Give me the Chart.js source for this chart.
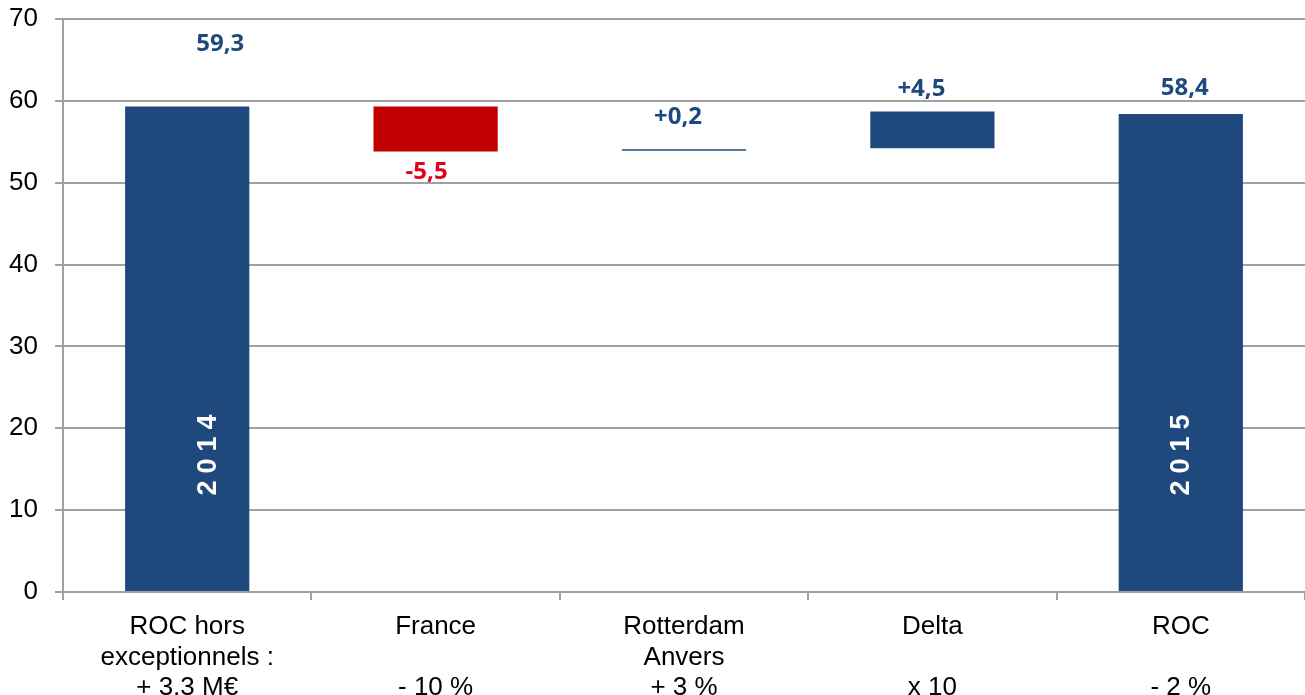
<!DOCTYPE html>
<html lang="fr">
<head>
<meta charset="UTF-8">
<title>ROC 2014 - 2015</title>
<script src="https://cdn.jsdelivr.net/npm/chart.js@4.4.0/dist/chart.umd.min.js"></script>
<style>
  html, body { margin: 0; padding: 0; background: #fff; }
  .chart-box { width: 1305px; height: 695px; position: relative; }
</style>
</head>
<body>
<div class="chart-box"><canvas id="rocChart"></canvas></div>
<script>
// categories (multi-line axis labels)
const categories = [
  ["ROC hors", "exceptionnels :", "+ 3,3 M€"],
  ["France", "", "- 10 %"],
  ["Rotterdam", "Anvers", "+ 3 %"],
  ["Delta", "", "x 10"],
  ["ROC", "", "- 2 %"]
];
// waterfall: each bar floats from start to end (M€)
const barStart = [0, 53.8, 53.9, 54.2, 0];
const barEnd = [59.3, 59.3, 54.1, 58.7, 58.4];
const valueLabels = ["59,3", "-5,5", "+0,2", "+4,5", "58,4"];
const yearLabels = ["2014", "", "", "", "2015"];
const yMin = 0, yMax = 70, yStep = 10;

const blue = '#1F497D';
const red = '#C00000';
const redText = '#E3001B';
const gridColor = '#a0a0a0';
const barColors = [blue, red, blue, blue, blue];
const labelColors = [blue, redText, blue, blue, blue];

const waterfallLabels = {
  id: 'waterfallLabels',
  afterDatasetsDraw(chart, args, opts) {
    const ctx = chart.ctx;
    const meta = chart.getDatasetMeta(0);
    meta.data.forEach((bar, i) => {
      const top = Math.min(bar.y, bar.base);
      ctx.save();
      ctx.textAlign = 'center';
      ctx.textBaseline = 'middle';
      ctx.font = 'bold 24px "Open Sans"';
      ctx.fillStyle = labelColors[i];
      ctx.fillText(valueLabels[i], bar.x + opts.dx[i], top + opts.dy[i]);

      // year written up the bar, spaced out
      if (yearLabels[i]) {
        ctx.translate(bar.x + opts.yearDx[i], bar.base - opts.yearRise);
        ctx.rotate(-Math.PI / 2);
        ctx.font = 'bold 27px "Liberation Sans"';
        ctx.fillStyle = '#fff';
        const chars = yearLabels[i].split('');
        const start = -(chars.length - 1) * opts.yearStep / 2;
        chars.forEach((ch, k) => ctx.fillText(ch, start + k * opts.yearStep, 0));
      }
      ctx.restore();
    });
  }
};

const tickFont = { family: '"Liberation Sans", Arial, sans-serif', size: 26, lineHeight: 1.17 };

new Chart(document.getElementById('rocChart'), {
  type: 'bar',
  data: {
    labels: categories,
    datasets: [{
      data: barStart.map((s, i) => [s, barEnd[i]]),
      backgroundColor: barColors,
      borderWidth: 0,
      barPercentage: 0.5,
      categoryPercentage: 1
    }]
  },
  options: {
    responsive: true,
    maintainAspectRatio: false,
    animation: false,
    layout: { padding: { top: 19, left: 0, right: 0, bottom: 0 } },
    plugins: {
      legend: { display: false },
      tooltip: { enabled: false },
      waterfallLabels: {
        dx: [33, -9, -6, -11, 4],
        dy: [-62, 66, -32, -22, -26],
        yearDx: [21, 0, 0, 0, 1],
        yearRise: 136,
        yearStep: 22
      }
    },
    scales: {
      x: {
        grid: { offset: true, drawOnChartArea: false, tickLength: 8, color: gridColor, lineWidth: 2 },
        border: { color: gridColor, width: 2 },
        ticks: { color: '#000', font: tickFont, padding: 12, maxRotation: 0, autoSkip: false },
        afterFit: s => { s.height = 103; }
      },
      y: {
        min: yMin,
        max: yMax,
        ticks: { stepSize: yStep, color: '#000', font: tickFont, padding: 17 },
        grid: { color: gridColor, lineWidth: 2, tickLength: 8 },
        border: { color: gridColor, width: 2 },
        afterFit: s => { s.width = 63; s.paddingTop = 0; s.paddingBottom = 0; }
      }
    }
  },
  plugins: [waterfallLabels]
});
</script>
</body>
</html>
